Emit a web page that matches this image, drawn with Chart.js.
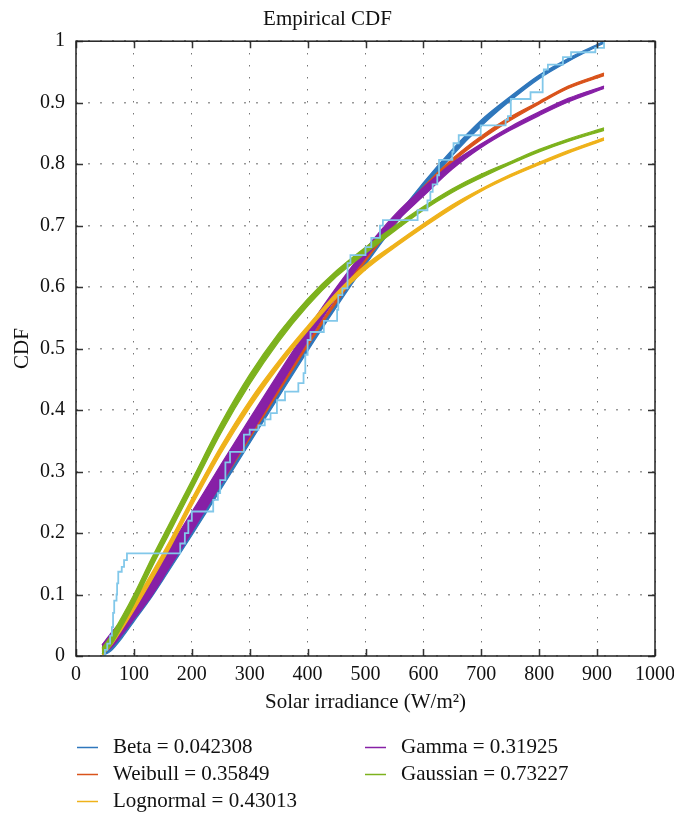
<!DOCTYPE html>
<html>
<head>
<meta charset="utf-8">
<script src="https://cdn.jsdelivr.net/npm/chart.js@4.4.1/dist/chart.umd.min.js"></script>
<style>
  html, body { margin: 0; padding: 0; background: #fff; }
  #wrap { width: 674px; height: 816px; }
</style>
</head>
<body>
<div id="wrap"><canvas id="cdf" width="674" height="816"></canvas></div>
<script>
// shared x grid (W/m2) for the fitted curves
const xs = [45, 60, 80, 100, 130, 160, 200, 250, 300, 350, 400, 450, 500, 550, 600, 650, 700, 750, 800, 850, 912];

// each fit is a bundle of curves, kept as lower / upper edge of the band
const betaLo = [0, 0.008, 0.03, 0.056, 0.095, 0.138, 0.196, 0.271, 0.346, 0.421, 0.496, 0.568, 0.636, 0.70, 0.759, 0.814, 0.862, 0.903, 0.939, 0.967, 0.997];
const betaHi = [0.003, 0.015, 0.039, 0.064, 0.104, 0.146, 0.204, 0.279, 0.354, 0.429, 0.504, 0.576, 0.644, 0.71, 0.77, 0.824, 0.872, 0.91, 0.945, 0.972, 1.0];

const weibullLo = [0.012, 0.027, 0.047, 0.069, 0.107, 0.147, 0.204, 0.279, 0.354, 0.429, 0.504, 0.575, 0.642, 0.702, 0.757, 0.803, 0.84, 0.871, 0.898, 0.923, 0.944];
const weibullHi = [0.018, 0.033, 0.053, 0.075, 0.113, 0.153, 0.21, 0.285, 0.36, 0.435, 0.51, 0.581, 0.648, 0.708, 0.763, 0.809, 0.846, 0.877, 0.902, 0.927, 0.948];

const lognormalLo = [0.001, 0.016, 0.044, 0.074, 0.122, 0.172, 0.244, 0.329, 0.404, 0.47, 0.529, 0.583, 0.628, 0.664, 0.697, 0.728, 0.756, 0.779, 0.799, 0.818, 0.839];
const lognormalHi = [0.009, 0.028, 0.056, 0.086, 0.134, 0.184, 0.256, 0.341, 0.416, 0.48, 0.537, 0.591, 0.636, 0.67, 0.703, 0.734, 0.76, 0.783, 0.803, 0.822, 0.843];

const gammaLo = [0.006, 0.013, 0.035, 0.06, 0.097, 0.142, 0.202, 0.279, 0.358, 0.436, 0.512, 0.584, 0.648, 0.703, 0.748, 0.792, 0.827, 0.855, 0.879, 0.901, 0.923];
const gammaHi = [0.018, 0.037, 0.059, 0.084, 0.129, 0.174, 0.234, 0.311, 0.386, 0.46, 0.532, 0.6, 0.662, 0.717, 0.762, 0.802, 0.833, 0.861, 0.885, 0.907, 0.927];

const gaussianLo = [0.003, 0.017, 0.049, 0.084, 0.142, 0.197, 0.27, 0.362, 0.442, 0.511, 0.569, 0.617, 0.655, 0.691, 0.725, 0.754, 0.778, 0.8, 0.82, 0.837, 0.855];
const gaussianHi = [0.013, 0.033, 0.065, 0.1, 0.158, 0.213, 0.286, 0.378, 0.458, 0.525, 0.581, 0.627, 0.665, 0.699, 0.731, 0.76, 0.784, 0.804, 0.824, 0.841, 0.859];

// empirical step CDF (corner after each jump)
const empX = [45, 50, 54, 59, 62, 64, 66, 70, 71, 73, 79, 83, 88, 180, 188, 194, 200, 237, 245, 249, 258, 266, 290, 300, 315, 326, 336, 347, 361, 384, 393, 396, 400, 405, 428, 451, 453, 460, 469, 474, 500, 510, 525, 530, 590, 607, 612, 616, 624, 627, 650, 652, 661, 699, 742, 746, 751, 785, 806, 808, 815, 841, 855, 897, 912];
const empY = [0, 0.01, 0.02, 0.033, 0.047, 0.07, 0.09, 0.1, 0.118, 0.137, 0.145, 0.156, 0.167, 0.183, 0.2, 0.22, 0.235, 0.254, 0.265, 0.286, 0.315, 0.332, 0.36, 0.368, 0.375, 0.385, 0.395, 0.416, 0.43, 0.444, 0.46, 0.49, 0.514, 0.527, 0.545, 0.563, 0.587, 0.598, 0.639, 0.652, 0.665, 0.68, 0.7, 0.709, 0.725, 0.741, 0.755, 0.767, 0.782, 0.807, 0.82, 0.834, 0.847, 0.863, 0.872, 0.878, 0.906, 0.917, 0.945, 0.954, 0.962, 0.974, 0.982, 0.989, 1.0];

const xTicks = [0, 100, 200, 300, 400, 500, 600, 700, 800, 900, 1000];
const yTicks = [0, 0.1, 0.2, 0.3, 0.4, 0.5, 0.6, 0.7, 0.8, 0.9, 1];

const fits = [
    { label: "Beta = 0.042308",      color: "#2f77bc", lo: betaLo,      hi: betaHi,      order: 5 },
    { label: "Weibull = 0.35849",    color: "#d9531b", lo: weibullLo,   hi: weibullHi,   order: 4 },
    { label: "Lognormal = 0.43013",  color: "#efb21a", lo: lognormalLo, hi: lognormalHi, order: 2 },
    { label: "Gamma = 0.31925",      color: "#8720a6", lo: gammaLo,     hi: gammaHi,     order: 3 },
    { label: "Gaussian = 0.73227",   color: "#7db21d", lo: gaussianLo,  hi: gaussianHi,  order: 1 }
];

const FONT = "'Liberation Serif', 'Times New Roman', serif";

const toPts = (xv, yv) => xv.map((x, i) => ({ x: x, y: yv[i] }));

const datasets = [];
fits.forEach(f => {
    datasets.push({
        label: f.label, legendItem: true,
        data: toPts(xs, f.lo),
        borderColor: f.color, borderWidth: 1.2,
        pointRadius: 0, fill: false, order: f.order,
        cubicInterpolationMode: "monotone"
    });
    datasets.push({
        label: f.label + " (upper)",
        data: toPts(xs, f.hi),
        borderColor: f.color, borderWidth: 1.2, backgroundColor: f.color,
        pointRadius: 0, fill: "-1", order: f.order,
        cubicInterpolationMode: "monotone"
    });
});
datasets.push({
    label: "Empirical",
    data: toPts(empX, empY),
    borderColor: "#82c8ea", borderWidth: 1.8,
    pointRadius: 0, fill: false, stepped: "before", order: 0
});

// box + inward ticks + legend in two columns (column-major like the original)
const framePlugin = {
    id: "frame",
    afterDatasetsDraw(chart) {
        const { ctx, chartArea: a, scales } = chart;
        ctx.save();
        ctx.strokeStyle = "#333";
        ctx.lineWidth = 1.5;
        const len = 7;
        xTicks.forEach(v => {
            const px = Math.round(scales.x.getPixelForValue(v)) + 0.5;
            ctx.beginPath();
            ctx.moveTo(px, a.bottom); ctx.lineTo(px, a.bottom - len);
            ctx.moveTo(px, a.top); ctx.lineTo(px, a.top + len);
            ctx.stroke();
        });
        yTicks.forEach(v => {
            const py = Math.round(scales.y.getPixelForValue(v)) + 0.5;
            ctx.beginPath();
            ctx.moveTo(a.left, py); ctx.lineTo(a.left + len, py);
            ctx.moveTo(a.right, py); ctx.lineTo(a.right - len, py);
            ctx.stroke();
        });
        ctx.strokeStyle = "#222";
        ctx.lineWidth = 1.5;
        ctx.strokeRect(a.left, a.top, a.right - a.left, a.bottom - a.top);
        ctx.restore();
    },
    afterDraw(chart) {
        const { ctx } = chart;
        const items = chart.data.datasets.filter(d => d.legendItem);
        ctx.save();
        ctx.font = "21px " + FONT;
        ctx.textBaseline = "middle";
        ctx.fillStyle = "#111";
        items.forEach((d, i) => {
            const col = i < 3 ? 0 : 1;
            const row = i < 3 ? i : i - 3;
            const lx = col === 0 ? 77 : 365;
            const ly = 747 + row * 27;
            ctx.strokeStyle = d.borderColor;
            ctx.lineWidth = 1.5;
            ctx.beginPath();
            ctx.moveTo(lx, ly + 0.5); ctx.lineTo(lx + 21, ly + 0.5);
            ctx.stroke();
            ctx.fillText(d.label, lx + 36, ly);
        });
        ctx.restore();
    }
};

new Chart(document.getElementById("cdf").getContext("2d"), {
    type: "line",
    data: { datasets: datasets },
    options: {
        responsive: false,
        animation: false,
        layout: { padding: { left: 0, right: 19, bottom: 101, top: 0 } },
        plugins: {
            legend: { display: false },
            tooltip: { enabled: false },
            title: {
                display: true,
                text: "Empirical CDF",
                color: "#111",
                font: { family: FONT, size: 21, weight: "normal" },
                padding: { top: 7, bottom: 9 }
            },
            filler: { drawTime: "beforeDatasetDraw" }
        },
        scales: {
            x: {
                type: "linear", min: 0, max: 1000,
                afterBuildTicks: s => { s.ticks = xTicks.map(v => ({ value: v })); },
                afterFit: s => { s.height = 59; s.paddingRight = 0; s.paddingLeft = 0; },
                ticks: {
                    color: "#111", padding: 7, maxRotation: 0,
                    font: { family: FONT, size: 20 },
                    callback: v => String(v)
                },
                grid: { color: "#555", lineWidth: 1, drawTicks: false },
                border: { display: false, dash: [1.2, 10.8] },
                title: {
                    display: true, text: "Solar irradiance (W/m\u00B2)", color: "#111",
                    font: { family: FONT, size: 21 }, padding: { top: 4, bottom: 0 }
                }
            },
            y: {
                type: "linear", min: 0, max: 1,
                afterBuildTicks: s => { s.ticks = yTicks.map(v => ({ value: v })); },
                afterFit: s => { s.width = 76; },
                ticks: {
                    color: "#111", padding: 11,
                    font: { family: FONT, size: 20 },
                    callback: v => String(Math.round(v * 10) / 10)
                },
                grid: { color: "#999", lineWidth: 1.6, drawTicks: false },
                border: { display: false, dash: [2, 10] },
                title: {
                    display: true, text: "CDF", color: "#111",
                    font: { family: FONT, size: 21 }, padding: { top: 10, bottom: 0 }
                }
            }
        }
    },
    plugins: [framePlugin]
});
</script>
</body>
</html>
